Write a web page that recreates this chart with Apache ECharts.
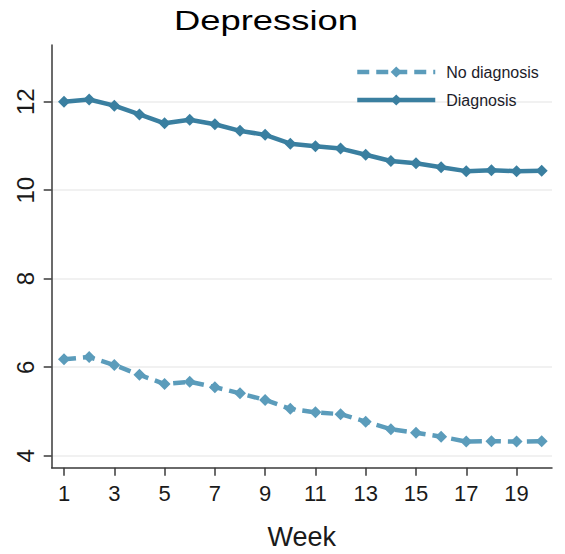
<!DOCTYPE html>
<html>
<head>
<meta charset="utf-8">
<script src="https://cdn.jsdelivr.net/npm/echarts@6/dist/echarts.min.js"></script>
<style>
  html, body { margin: 0; padding: 0; background: #fff; }
  #chart { width: 565px; height: 554px; }
</style>
</head>
<body>
<div id="chart"></div>
<script>
// Weekly mean depression score by diagnosis status
const weeks = [1, 2, 3, 4, 5, 6, 7, 8, 9, 10, 11, 12, 13, 14, 15, 16, 17, 18, 19, 20];
const noDiagnosis = [6.18, 6.23, 6.05, 5.83, 5.62, 5.67, 5.55, 5.41, 5.26, 5.06, 4.98, 4.94, 4.77, 4.60, 4.52, 4.43, 4.32, 4.33, 4.32, 4.33];
const diagnosis = [12.00, 12.05, 11.91, 11.71, 11.51, 11.59, 11.49, 11.34, 11.25, 11.05, 10.99, 10.94, 10.80, 10.66, 10.61, 10.52, 10.43, 10.45, 10.43, 10.44];
const xTicks = [1, 3, 5, 7, 9, 11, 13, 15, 17, 19];
const yTicks = [4, 6, 8, 10, 12];

const chart = echarts.init(document.getElementById('chart'), null, { renderer: 'svg' });

const textColor = '#1a1a1a';
const axisColor = '#3a3a3a';
const fontFamily = '"Liberation Sans", Arial, sans-serif';

chart.setOption({
  animation: false,
  backgroundColor: '#ffffff',
  graphic: [{
    type: 'text',
    x: 266,
    y: 21,
    scaleX: 1.3,
    style: {
      text: 'Depression',
      font: '28px "Liberation Sans", Arial, sans-serif',
      fill: '#000',
      textAlign: 'center',
      textVerticalAlign: 'middle'
    }
  }],
  legend: {
    left: 350,
    top: 59,
    orient: 'vertical',
    itemWidth: 78,
    itemHeight: 14,
    itemGap: 12,
    lineStyle: { width: 4.5 },
    textStyle: {
      fontFamily: fontFamily,
      fontSize: 16,
      lineHeight: 16,
      color: '#1c1c2a',
      padding: [0, 0, 0, 6]
    },
    data: ['No diagnosis', 'Diagnosis']
  },
  grid: { left: 51.7, right: 13, top: 45, bottom: 86.3, containLabel: false, outerBoundsMode: 'none' },
  xAxis: {
    type: 'value',
    min: 0.51,
    max: 20.41,
    name: 'Week',
    nameLocation: 'middle',
    nameGap: 56,
    nameTextStyle: { fontFamily: fontFamily, fontSize: 27, color: textColor },
    axisLine: { show: true, onZero: false, lineStyle: { color: axisColor, width: 1.5 } },
    axisTick: { show: true, length: 8, customValues: xTicks, lineStyle: { color: axisColor, width: 1.5 } },
    axisLabel: {
      customValues: xTicks,
      margin: 15,
      fontFamily: fontFamily,
      fontSize: 22,
      color: textColor
    },
    splitLine: { show: false }
  },
  yAxis: {
    type: 'value',
    min: 3.73,
    max: 13.28,
    axisLine: { show: true, onZero: false, lineStyle: { color: axisColor, width: 1.5 } },
    axisTick: { show: true, length: 8, customValues: yTicks, lineStyle: { color: axisColor, width: 1.5 } },
    axisLabel: {
      customValues: yTicks,
      rotate: 90,
      margin: 14,
      fontFamily: fontFamily,
      fontSize: 24,
      color: textColor
    },
    splitLine: { show: true, lineStyle: { color: '#ececec', width: 1.5 } }
  },
  series: [
    {
      name: 'No diagnosis',
      type: 'line',
      data: weeks.map((w, i) => [w, noDiagnosis[i]]),
      symbol: 'diamond',
      symbolSize: 12,
      showAllSymbol: true,
      color: '#5b9cbb',
      lineStyle: { width: 4.5, type: [12, 7], color: '#5b9cbb' },
      itemStyle: { color: '#5b9cbb' },
      z: 3
    },
    {
      name: 'Diagnosis',
      type: 'line',
      data: weeks.map((w, i) => [w, diagnosis[i]]),
      symbol: 'diamond',
      symbolSize: 12,
      showAllSymbol: true,
      color: '#3a7fa0',
      lineStyle: { width: 4.5, color: '#3a7fa0' },
      itemStyle: { color: '#3a7fa0' },
      z: 3
    }
  ]
});
</script>
</body>
</html>
